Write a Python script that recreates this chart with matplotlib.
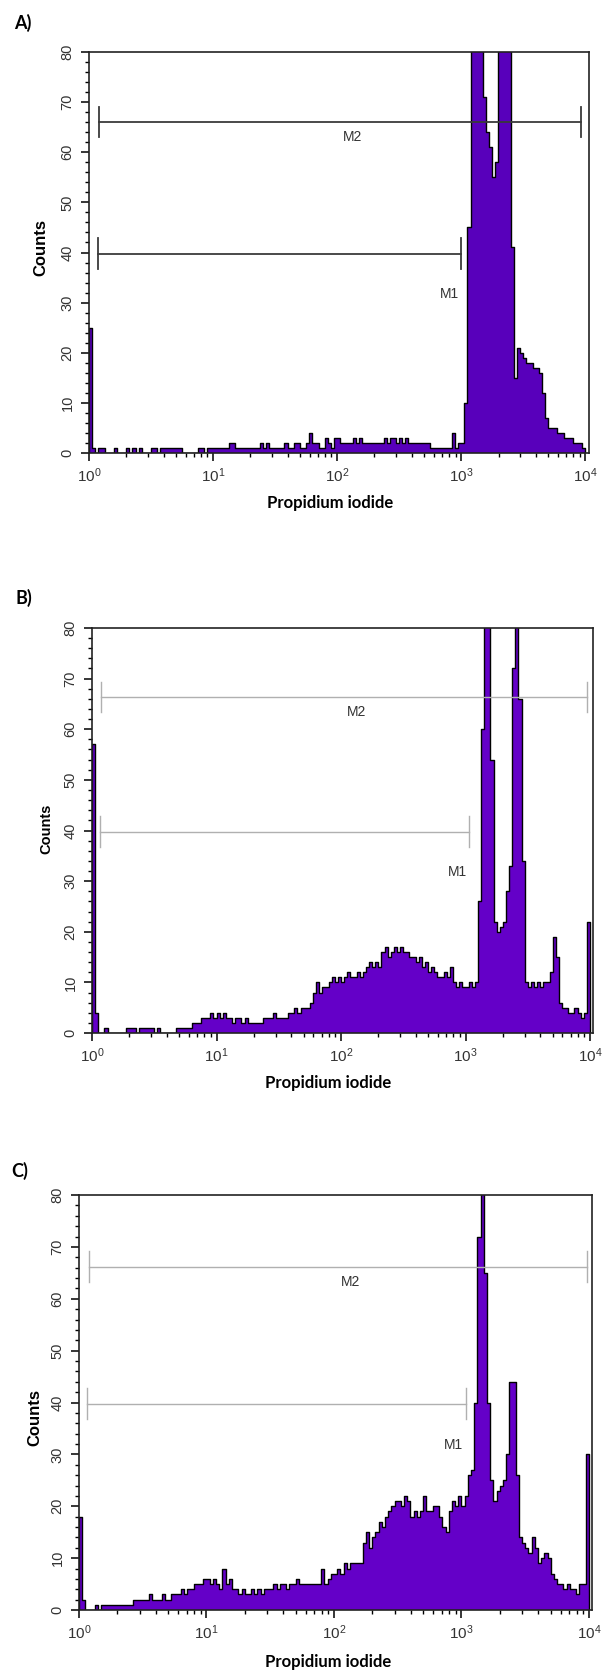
import numpy as np
import matplotlib
matplotlib.use("Agg")
import matplotlib.pyplot as plt
from matplotlib import font_manager
from matplotlib.ticker import MultipleLocator, LogLocator, NullFormatter

# counts per channel, 40 channels per decade from 10^0 to 10^4
counts_a = [25, 1, 0, 1, 1, 0, 0, 0, 1, 0,
            0, 0, 1, 0, 1, 0, 1, 0, 0, 0,
            1, 1, 0, 1, 1, 1, 1, 1, 1, 1,
            0, 0, 0, 0, 0, 1, 1, 0, 1, 1,
            1, 1, 1, 1, 1, 2, 2, 1, 1, 1,
            1, 1, 1, 1, 1, 2, 1, 2, 1, 1,
            1, 1, 1, 2, 1, 1, 2, 2, 1, 1,
            2, 4, 2, 2, 1, 1, 3, 2, 1, 3,
            3, 2, 2, 2, 2, 3, 2, 3, 2, 2,
            2, 2, 2, 2, 2, 3, 2, 3, 3, 2,
            3, 2, 3, 2, 2, 2, 2, 2, 2, 2,
            1, 1, 1, 1, 1, 1, 1, 4, 1, 2,
            2, 10, 45, 95, 95, 95, 95, 71, 64, 61,
            55, 58, 90, 95, 95, 95, 41, 15, 21, 20,
            19, 18, 18, 17, 17, 16, 12, 7, 5, 5,
            5, 4, 4, 3, 3, 3, 2, 2, 2, 1]

counts_b = [57, 4, 0, 0, 1, 0, 0, 0, 0, 0,
            0, 1, 1, 1, 0, 1, 1, 1, 1, 1,
            0, 1, 0, 0, 0, 0, 0, 1, 1, 1,
            1, 1, 2, 2, 2, 3, 3, 3, 4, 3,
            4, 3, 4, 3, 3, 2, 3, 3, 2, 3,
            2, 2, 2, 2, 2, 3, 3, 3, 4, 3,
            3, 3, 3, 4, 4, 5, 4, 5, 5, 5,
            6, 8, 10, 8, 9, 9, 10, 11, 10, 11,
            10, 11, 12, 11, 11, 12, 11, 12, 13, 14,
            13, 14, 13, 16, 17, 15, 16, 17, 16, 17,
            16, 16, 15, 15, 14, 15, 13, 14, 12, 13,
            12, 11, 11, 12, 11, 13, 10, 9, 10, 9,
            9, 10, 9, 10, 26, 60, 95, 95, 54, 22,
            20, 21, 22, 28, 33, 72, 95, 66, 34, 10,
            9, 10, 9, 10, 9, 10, 10, 12, 19, 15,
            6, 5, 5, 4, 4, 5, 4, 3, 4, 22]

counts_c = [18, 2, 0, 0, 0, 1, 0, 1, 1, 1,
            1, 1, 1, 1, 1, 1, 1, 2, 2, 2,
            2, 2, 3, 2, 2, 2, 3, 2, 2, 3,
            3, 3, 4, 3, 4, 4, 5, 5, 5, 6,
            6, 5, 6, 5, 4, 8, 5, 6, 4, 4,
            3, 4, 3, 3, 4, 3, 4, 3, 4, 4,
            4, 5, 4, 5, 5, 4, 5, 5, 6, 5,
            5, 5, 5, 5, 5, 5, 8, 5, 6, 7,
            7, 8, 7, 9, 8, 9, 9, 9, 9, 13,
            15, 12, 14, 15, 17, 16, 18, 19, 20, 21,
            21, 20, 22, 21, 18, 19, 18, 19, 22, 19,
            19, 20, 20, 18, 16, 15, 19, 21, 20, 22,
            20, 22, 26, 27, 40, 72, 95, 65, 40, 25,
            21, 23, 24, 25, 30, 44, 44, 26, 14, 13,
            12, 11, 14, 12, 9, 10, 11, 10, 7, 6,
            5, 5, 4, 5, 4, 4, 3, 5, 5, 30]

# markers: [start, end, level]
m1_a = [1.19, 1000, 39.8]
m2_a = [1.21, 9300, 66.1]
m1_b = [1.15, 1070, 39.8]
m2_b = [1.19, 9450, 66.4]
m1_c = [1.16, 1090, 39.8]
m2_c = [1.19, 9660, 66.2]

panel_labels = ["A)", "B)", "C)"]
xticks = [1, 10, 100, 1000, 10000]
xtick_labels = [r"$\mathregular{10^{%d}}$" % i for i in range(5)]

W, H = 606, 1671
names = {f.name for f in font_manager.fontManager.ttflist}
narrow = "Liberation Sans Narrow" if "Liberation Sans Narrow" in names else "Liberation Sans"

fig = plt.figure(figsize=(W / 100, H / 100), dpi=100)


def px(x, y):
    return x / W, 1 - y / H


def draw_panel(box, xmax, counts, m1, m2, fill, gate_col, gate_lw, ylab_size):
    left, top, right, bottom = box
    ax = fig.add_axes([left / W, 1 - bottom / H, (right - left) / W, (bottom - top) / H])
    edges = 10 ** (np.arange(len(counts) + 1) / 40)
    xs = np.concatenate([[edges[0]], np.repeat(edges, 2)[1:-1], [edges[-1]]])
    ys = np.concatenate([[0], np.repeat(counts, 2), [0]])
    ax.fill(xs, ys, color=fill, lw=0)
    ax.plot(xs, ys, color="black", lw=1.0)

    for lo, hi, lev in (m1, m2):
        ax.plot([lo, hi], [lev, lev], color=gate_col, lw=gate_lw)
        ax.plot([lo, lo], [lev - 3, lev + 3], color=gate_col, lw=gate_lw)
        ax.plot([hi, hi], [lev - 3, lev + 3], color=gate_col, lw=gate_lw)
    mid = 10 ** ((np.log10(m2[0]) + np.log10(m2[1])) / 2 + 0.1)
    ax.text(mid, m2[2] - 3, "M2", ha="center", va="center", fontsize=10,
            family=narrow, color="#333333")
    ax.text(m1[1] * 0.8, m1[2] - 8, "M1", ha="center", va="center", fontsize=10,
            family=narrow, color="#333333")

    ax.set_xscale("log")
    ax.set_xlim(1, xmax)
    ax.set_ylim(0, 80)
    ax.set_xticks(xticks)
    ax.set_xticklabels(xtick_labels, fontsize=11, family=narrow, color="#333333")
    ax.xaxis.set_minor_locator(LogLocator(base=10, subs=np.arange(2, 10)))
    ax.xaxis.set_minor_formatter(NullFormatter())
    ax.set_yticks(range(0, 81, 10))
    ax.set_yticklabels([str(v) for v in range(0, 81, 10)], rotation=90, va="center",
                       fontsize=10.5, family=narrow, color="#333333")
    ax.yaxis.set_minor_locator(MultipleLocator(2))
    ax.tick_params(which="major", direction="out", length=5.5, width=1.1, pad=4)
    ax.tick_params(which="minor", direction="out", length=3, width=1)
    ax.tick_params(axis="y", pad=5)
    for s in ax.spines.values():
        s.set_linewidth(1.2)
        s.set_color("#222222")
    return ax


boxes = [(89, 52, 589, 453), (92, 628, 593, 1033), (79, 1195, 592, 1610)]
xmaxes = [10 ** 4.03, 10 ** 4.024, 10 ** 4.024]
panels = [(counts_a, m1_a, m2_a, "#5800bb", "#3a3a3a", 1.3, 12),
          (counts_b, m1_b, m2_b, "#6400c8", "#b0b0b0", 1.0, 10.5),
          (counts_c, m1_c, m2_c, "#6400c8", "#b0b0b0", 1.0, 12)]
title_pos = [(23, 23), (24, 598), (20, 1171)]
ylab_pos = [(41, 248), (46, 829), (35, 1417)]
xlab_pos = [(330, 503), (328, 1083), (328, 1662)]

for box, xm, p, tp, yp, xp, lab in zip(boxes, xmaxes, panels, title_pos, ylab_pos,
                                       xlab_pos, panel_labels):
    draw_panel(box, xm, *p)
    fig.text(*px(*tp), lab, ha="center", va="center", fontsize=13,
             fontweight="bold", family="Lato")
    fig.text(*px(*yp), "Counts", ha="center", va="center", rotation=90,
             fontsize=p[6], fontweight="bold", family="Liberation Sans")
    fig.text(*px(*xp), "Propidium iodide", ha="center", va="center", fontsize=12,
             fontweight="bold", family="Lato")

fig.savefig("out.png", dpi=100)
